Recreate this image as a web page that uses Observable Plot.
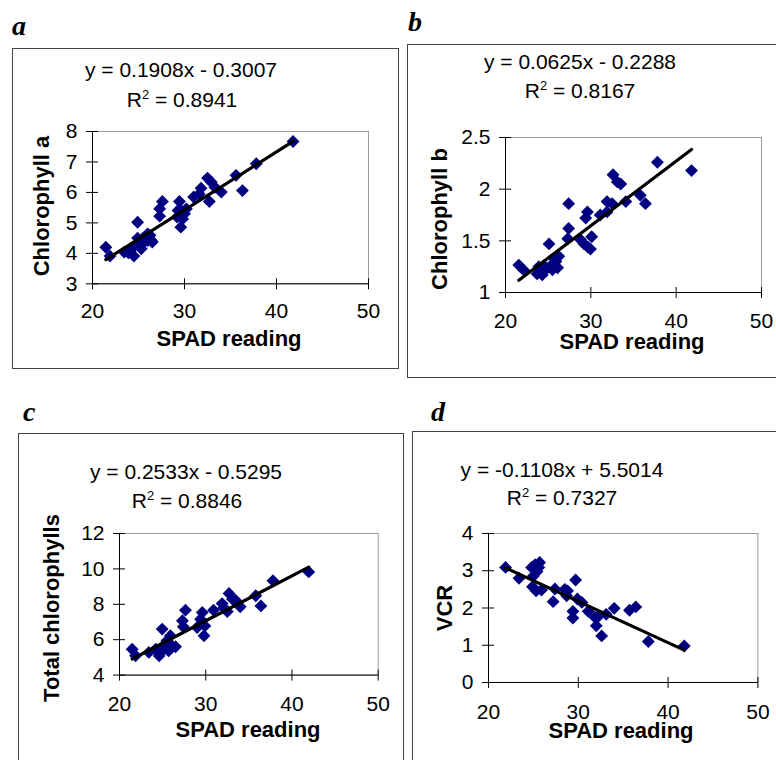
<!DOCTYPE html>
<html><head><meta charset="utf-8">
<script src="https://cdn.jsdelivr.net/npm/d3@7"></script>
<script src="https://cdn.jsdelivr.net/npm/@observablehq/plot@0.6"></script>
<style>
body{margin:0;background:#fff;}
#fig{position:relative;width:776px;height:760px;overflow:hidden;font-family:Arial,"Liberation Sans",sans-serif;color:#000;}
.box{position:absolute;border:1px solid #444;box-sizing:border-box;}
.lbl{position:absolute;font-family:"Liberation Serif","Times New Roman",serif;font-weight:bold;font-style:italic;font-size:28px;line-height:1;}
.t{position:absolute;transform:translate(-50%,-50%);white-space:nowrap;font-size:21px;line-height:1;}
.ttl{font-weight:bold;font-size:22px;}
.rot{transform:translate(-50%,-50%) rotate(-90deg);}
sup{font-size:13px;vertical-align:8px;line-height:0;}
.plot{position:absolute;}
</style></head>
<body><div id="fig"></div>
<script>
// ---- data ----
const xTicks = [20, 30, 40, 50];
const aTicks = [3, 4, 5, 6, 7, 8];
const bTicks = [1, 1.5, 2, 2.5];
const cTicks = [4, 6, 8, 10, 12];
const dTicks = [0, 1, 2, 3, 4];

const spadA = [21.45, 21.9, 23.45, 23.9, 24.2, 24.5, 24.7, 24.9, 24.9, 25.3, 25.45, 25.6, 26.0, 26.0, 26.25, 26.4, 26.5, 27.6, 27.3, 27.3, 29.45, 29.6, 29.2, 29.3, 29.8, 29.6, 30.0, 30.2, 31.0, 31.6, 31.8, 32.5, 32.9, 32.7, 33.3, 34.0, 35.6, 36.3, 37.8, 41.8];
const chlA  = [4.20, 3.91, 4.04, 4.02, 4.13, 3.91, 4.26, 4.50, 5.02, 4.15, 4.48, 4.37, 4.64, 4.42, 4.59, 4.42, 4.37, 5.70, 5.46, 5.22, 5.70, 5.41, 5.19, 5.41, 5.13, 4.86, 5.30, 5.46, 5.85, 5.95, 6.14, 6.47, 6.34, 5.70, 6.17, 6.01, 6.56, 6.06, 6.94, 7.67];

const spadB = [21.56, 22.15, 23.7, 23.9, 24.3, 24.5, 24.7, 25.1, 25.3, 25.5, 25.7, 25.9, 26.1, 26.25, 27.4, 27.4, 27.3, 28.8, 29.2, 29.4, 29.6, 29.65, 29.96, 30.1, 31.1, 31.9, 31.9, 32.5, 32.6, 33.1, 33.5, 34.1, 35.8, 36.4, 37.8, 41.8];
const chlB  = [1.265, 1.216, 1.18, 1.25, 1.17, 1.26, 1.22, 1.47, 1.26, 1.22, 1.33, 1.30, 1.24, 1.35, 1.86, 1.62, 1.52, 1.51, 1.47, 1.72, 1.78, 1.44, 1.42, 1.54, 1.75, 1.78, 1.88, 1.86, 2.14, 2.07, 2.05, 1.88, 1.94, 1.86, 2.26, 2.18];

const spadC = [21.47, 21.86, 23.4, 24.2, 24.6, 24.75, 24.95, 25.1, 25.3, 25.5, 25.7, 25.9, 26.1, 26.5, 27.65, 27.3, 27.4, 29.6, 29.4, 29.0, 29.8, 29.9, 30.9, 31.9, 32.1, 32.5, 32.7, 33.1, 33.45, 34.0, 35.8, 36.4, 37.8, 41.95];
const chlT  = [5.46, 5.09, 5.28, 5.46, 5.09, 5.28, 6.60, 5.65, 5.56, 5.94, 5.37, 6.22, 5.65, 5.60, 7.67, 7.07, 6.73, 7.54, 7.16, 6.69, 6.22, 6.78, 7.67, 8.04, 7.80, 7.59, 8.61, 8.29, 8.23, 7.86, 8.48, 7.91, 9.33, 9.83];

const spadD = [21.9, 23.4, 24.8, 24.9, 25.0, 25.2, 25.3, 25.4, 25.6, 25.7, 25.9, 27.2, 27.4, 28.5, 28.7, 28.8, 29.4, 29.4, 29.7, 29.9, 30.4, 31.1, 31.85, 32.0, 32.3, 32.6, 33.1, 34.0, 35.7, 36.4, 37.8, 41.8];
const vcr   = [3.09, 2.80, 3.09, 2.57, 2.86, 3.16, 2.46, 2.98, 3.09, 3.22, 2.48, 2.17, 2.51, 2.50, 2.33, 2.46, 1.91, 1.73, 2.75, 2.24, 2.15, 1.91, 1.75, 1.52, 1.79, 1.25, 1.83, 1.99, 1.94, 2.03, 1.10, 0.98];

const letters = ["a", "b", "c", "d"];
const yTitles = ["Chlorophyll a", "Chlorophyll b", "Total chlorophylls", "VCR"];
const xTitle = "SPAD reading";
const slopes = [0.1908, 0.0625, 0.2533, -0.1108];
const intercepts = [-0.3007, -0.2288, -0.5295, 5.5014];
const rSquared = [0.8941, 0.8167, 0.8846, 0.7327];

// ---- layout (page pixels) ----
const panels = [
  {xs: spadA, ys: chlA, ticks: aTicks, plot: [91.7, 367.7, 131, 283.3], xPad: 19,
   box: [12, 48, 387, 321], letter: [12, 12], eq: [181, 69], r2: [182, 99], xt: [229, 339], yt: [42, 206]},
  {xs: spadB, ys: chlB, ticks: bTicks, plot: [505, 761, 137.3, 292.3], xPad: 21,
   box: [407, 44, 380, 334], letter: [408, 8], eq: [580, 61], r2: [580, 90], xt: [632, 342], yt: [440, 219]},
  {xs: spadC, ys: chlT, ticks: cTicks, plot: [119, 377.7, 532.7, 674.3], xPad: 21,
   box: [18, 433, 386, 340], letter: [23, 398], eq: [186, 471], r2: [187, 500], xt: [248, 730], yt: [52, 608]},
  {xs: spadD, ys: vcr, ticks: dTicks, plot: [488.3, 757.7, 532.7, 681.7], xPad: 22,
   box: [412, 431, 380, 340], letter: [431, 398], eq: [562, 469], r2: [562, 497], xt: [621, 731], yt: [445, 608]}
];

const fig = document.getElementById("fig");
function addDiv(cls, html, x, y, extra) {
  const d = document.createElement("div");
  d.className = cls;
  d.innerHTML = html;
  d.style.left = x + "px";
  d.style.top = y + "px";
  if (extra) Object.assign(d.style, extra);
  fig.appendChild(d);
  return d;
}

panels.forEach((p, i) => {
  const [bx, by, bw, bh] = p.box;
  addDiv("box", "", bx, by, {width: bw + "px", height: bh + "px"});
  addDiv("lbl", letters[i], p.letter[0], p.letter[1]);

  const [L, R, T, B] = p.plot;
  const mL = 70, mR = 12, mT = 16, mB = 45;
  const y0 = p.ticks[0], y1 = p.ticks[p.ticks.length - 1];
  const pts = p.xs.map((x, k) => ({x, y: p.ys[k]}));
  const ext = d3.extent(p.xs);
  const trend = ext.map(x => ({x, y: slopes[i] * x + intercepts[i]}));
  const chart = Plot.plot({
    width: (R - L) + mL + mR,
    height: (B - T) + mT + mB,
    marginLeft: mL, marginRight: mR, marginTop: mT, marginBottom: mB,
    x: {domain: [20, 50]},
    y: {domain: [y0, y1]},
    style: {fontFamily: 'Arial, "Liberation Sans", sans-serif', fontSize: "21px", color: "#000", background: "transparent", overflow: "visible"},
    marks: [
      Plot.frame({stroke: "#999"}),
      Plot.ruleX([20], {stroke: "#000"}),
      Plot.ruleY([y0], {stroke: "#000"}),
      Plot.ruleX(xTicks, {x: d => d, y1: y0, y2: y0, insetTop: -5, insetBottom: -6, stroke: "#000"}),
      Plot.ruleY(p.ticks, {y: d => d, x1: 20, x2: 20, insetLeft: -6, insetRight: -6, stroke: "#000"}),
      Plot.axisX(xTicks, {tickSize: 0, tickPadding: p.xPad, fontSize: 21, label: null, tickFormat: d => String(d)}),
      Plot.axisY(p.ticks, {tickSize: 0, tickPadding: 15, fontSize: 21, label: null, tickFormat: d => String(d)}),
      Plot.dot(pts, {x: "x", y: "y", symbol: "diamond2", r: 5.8, fill: "#000080", stroke: "none"}),
      Plot.line(trend, {x: "x", y: "y", stroke: "#000", strokeWidth: 3.2})
    ]
  });
  chart.classList.add("plot");
  chart.style.left = (L - mL) + "px";
  chart.style.top = (T - mT) + "px";
  fig.appendChild(chart);

  const s = slopes[i], b = intercepts[i];
  const eq = `y = ${s.toFixed(4)}x ${b < 0 ? "-" : "+"} ${Math.abs(b).toFixed(4)}`;
  addDiv("t", eq, p.eq[0], p.eq[1]);
  addDiv("t", `R<sup>2</sup> = ${rSquared[i].toFixed(4)}`, p.r2[0], p.r2[1]);
  addDiv("t ttl", xTitle, p.xt[0], p.xt[1]);
  addDiv("t ttl rot", yTitles[i], p.yt[0], p.yt[1]);
});
</script>
</body></html>
